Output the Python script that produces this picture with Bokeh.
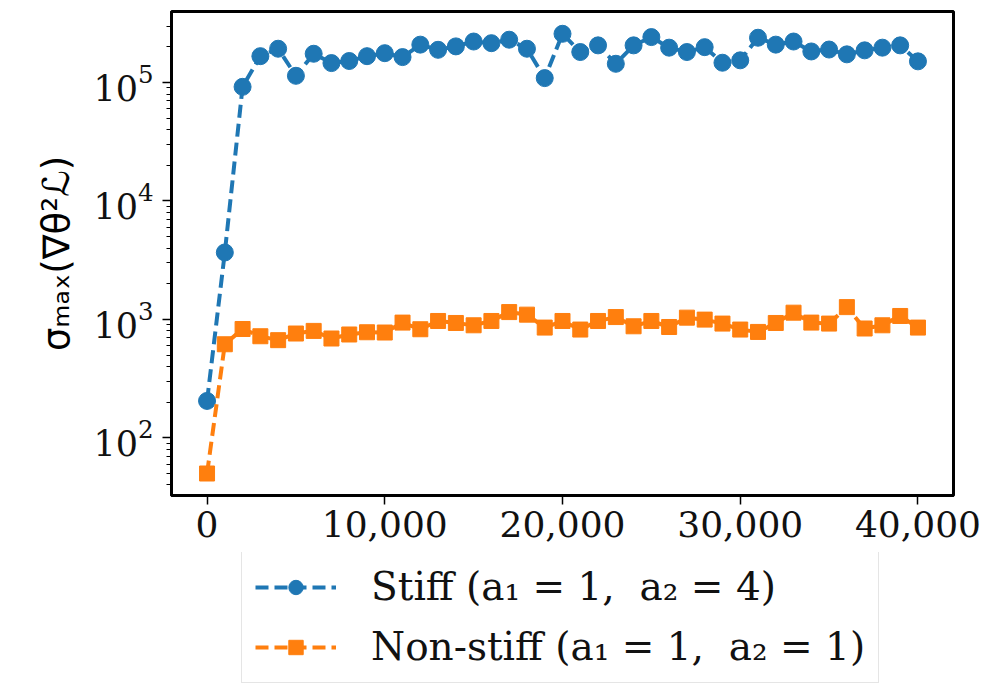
from bokeh.plotting import figure
from bokeh.layouts import column
from bokeh.models import (Legend, LegendItem, Range1d, FixedTicker, NumeralTickFormatter,
                          ColumnDataSource)
from bokeh.embed import file_html
from bokeh.resources import INLINE

steps = list(range(0, 40001, 1000))
stiff = [205, 3675, 92000, 167000, 193000, 114000, 175000, 146000, 152000, 167000,
         177000, 164000, 209000, 189000, 202000, 222000, 215000, 230000, 193000, 109000,
         258000, 181000, 206000, 144000, 206000, 242000, 197000, 181000, 199000, 147000,
         154000, 239000, 209000, 222000, 183000, 190000, 173000, 187000, 197000, 206000,
         151000]
nonstiff = [50, 617, 830, 721, 668, 760, 800, 690, 746, 779,
            775, 940, 826, 970, 933, 892, 970, 1153, 1097, 853,
            970, 821, 970, 1047, 875, 970, 863, 1035, 996, 922,
            821, 784, 933, 1140, 940, 922, 1270, 838, 892, 1069,
            853]
x_ticks = [0, 10000, 20000, 30000, 40000]
label_stiff = "Stiff (a\u2081 = 1,  a\u2082 = 4)"
label_nonstiff = "Non-stiff (a\u2081 = 1,  a\u2082 = 1)"
y_label = "\u03c3\u2098\u2090\u2093(\u2207\u03b8\u00b2\u2112)"

BLUE = "#1f77b4"
ORANGE = "#ff7f0e"

src = ColumnDataSource(dict(x=steps, s=stiff, n=nonstiff))
line_kw = dict(line_width=4, line_dash="13 6")


def add_series(fig):
    l1 = fig.line("x", "s", source=src, line_color=BLUE, **line_kw)
    s1 = fig.scatter("x", "s", source=src, marker="circle", size=17, fill_color=BLUE, line_color=BLUE)
    l2 = fig.line("x", "n", source=src, line_color=ORANGE, **line_kw)
    s2 = fig.scatter("x", "n", source=src, marker="square", size=15, fill_color=ORANGE, line_color=ORANGE)
    return l1, s1, l2, s2


p = figure(width=1008, height=552, y_axis_type="log",
           x_range=Range1d(-2000, 42000), y_range=Range1d(32.6, 3.98e5),
           output_backend="svg", toolbar_location=None,
           min_border_left=171, min_border_right=55, min_border_top=11,
           min_border_bottom=57)

p.background_fill_color = "white"
p.border_fill_color = "white"
p.xgrid.visible = False
p.ygrid.visible = False
p.outline_line_color = "black"
p.outline_line_width = 3

add_series(p)

p.xaxis.ticker = FixedTicker(ticks=x_ticks)
p.xaxis.formatter = NumeralTickFormatter(format="0,0")
p.xaxis.minor_tick_line_color = None

for ax in (p.xaxis[0], p.yaxis[0]):
    ax.axis_line_color = "black"
    ax.axis_line_width = 3
    ax.major_tick_line_color = "black"
    ax.major_tick_line_width = 1.5
    ax.major_tick_in = 0
    ax.major_tick_out = 9
    ax.minor_tick_in = 0
    ax.minor_tick_out = 5
    ax.minor_tick_line_width = 1.2
    ax.major_label_text_font = "DejaVu Serif"
    ax.major_label_text_color = "#111111"

p.xaxis.major_label_text_font_size = "36px"
p.xaxis.major_label_standoff = 6
p.yaxis.major_label_text_font_size = "35px"
p.yaxis.major_label_standoff = 9

p.yaxis.axis_label = y_label
p.yaxis.axis_label_text_font = "DejaVu Sans"
p.yaxis.axis_label_text_font_style = "normal"
p.yaxis.axis_label_text_font_size = "37px"
p.yaxis.axis_label_text_color = "black"
p.yaxis.axis_label_standoff = 12

# legend panel below the chart (same series, ranges chosen so nothing is visible)
pl = figure(width=1008, height=132, x_range=Range1d(-3, -2), y_range=Range1d(-3, -2),
            output_backend="svg", toolbar_location=None,
            x_axis_location=None, y_axis_location=None,
            min_border_left=171, min_border_right=55, min_border_top=0,
            min_border_bottom=0)
pl.xgrid.visible = False
pl.ygrid.visible = False
pl.outline_line_color = None
pl.background_fill_color = "white"
pl.border_fill_color = "white"

ll1, ls1, ll2, ls2 = add_series(pl)

legend = Legend(items=[LegendItem(label=label_stiff, renderers=[ll1, ls1]),
                       LegendItem(label=label_nonstiff, renderers=[ll2, ls2])],
                location=(70, 1), orientation="vertical")
legend.label_text_font = "DejaVu Serif"
legend.label_text_font_size = "39px"
legend.label_text_color = "#111111"
legend.glyph_width = 81
legend.glyph_height = 36
legend.label_height = 45
legend.label_standoff = 35
legend.spacing = 15
legend.padding = 13
legend.margin = 0
legend.border_line_color = "#cccccc"
legend.border_line_width = 1.5
legend.background_fill_color = "white"
legend.background_fill_alpha = 1.0
pl.add_layout(legend)

layout = column(p, pl, spacing=0)
open("out.html", "w").write(file_html(layout, INLINE))
